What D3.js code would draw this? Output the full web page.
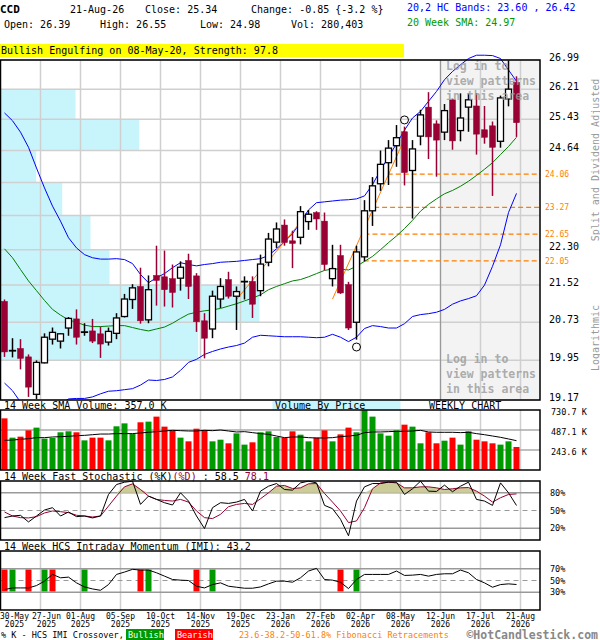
<!DOCTYPE html>
<html>
<head>
<meta charset="utf-8">
<script src="https://cdn.jsdelivr.net/npm/d3@7"></script>
<style>
  body { margin: 0; background: #fff; }
  svg { display: block; font-family: "DejaVu Sans Mono", monospace; }
</style>
</head>
<body>
<div id="chart"></div>
<script>
// Weekly bars
const dates = [
  '2025-05-30','2025-06-06','2025-06-13','2025-06-20','2025-06-27','2025-07-04','2025-07-11','2025-07-18','2025-07-25',
  '2025-08-01','2025-08-08','2025-08-15','2025-08-22','2025-08-29','2025-09-05','2025-09-12','2025-09-19','2025-09-26',
  '2025-10-03','2025-10-10','2025-10-17','2025-10-24','2025-10-31','2025-11-07','2025-11-14','2025-11-21','2025-11-28',
  '2025-12-05','2025-12-12','2025-12-19','2025-12-26','2026-01-02','2026-01-09','2026-01-16','2026-01-23','2026-01-30',
  '2026-02-06','2026-02-13','2026-02-20','2026-02-27','2026-03-06','2026-03-13','2026-03-20','2026-03-27','2026-04-02',
  '2026-04-10','2026-04-17','2026-04-24','2026-05-01','2026-05-08','2026-05-15','2026-05-22','2026-05-29','2026-06-05',
  '2026-06-12','2026-06-19','2026-06-26','2026-07-03','2026-07-10','2026-07-17','2026-07-24','2026-07-31','2026-08-07',
  '2026-08-14','2026-08-21'
];
const open = [21.17,20.14,20.19,20.02,19.28,19.90,20.38,20.34,20.61,20.80,20.52,20.55,20.49,20.32,20.50,20.85,21.21,21.49,20.78,21.73,
  21.70,21.66,21.67,22.06,21.72,20.76,20.59,21.22,21.64,21.28,21.59,21.60,21.40,22.02,22.47,22.86,22.50,22.58,22.94,23.15,
  22.95,21.66,22.17,21.53,20.73,22.14,23.19,23.83,24.34,24.76,25.11,24.15,25.00,25.74,25.31,25.10,25.93,25.14,25.74,25.77,
  25.16,25.26,24.87,25.95,26.39];
const high = [21.21,20.40,20.38,20.07,19.95,20.50,20.62,20.50,20.84,21.00,20.71,20.80,20.64,20.62,20.92,21.33,21.54,21.90,21.73,22.39,
  22.28,21.97,22.04,22.21,21.78,20.92,21.40,21.67,21.81,21.49,21.71,21.71,22.19,22.68,22.92,22.99,22.73,23.30,23.21,23.18,
  23.15,22.41,22.41,21.59,22.39,23.44,23.99,24.64,24.90,25.28,25.24,24.90,25.67,26.13,25.40,25.82,25.96,26.10,26.10,26.10,
  25.77,25.37,26.04,26.98,26.55];
const low = [20.02,20.01,19.77,19.23,19.19,19.89,20.27,20.19,20.45,20.27,20.45,20.30,20.00,20.25,20.38,20.83,21.01,20.70,20.71,21.08,
  21.06,21.04,21.40,21.22,20.53,19.99,20.40,21.03,21.23,20.57,21.21,20.82,21.28,21.93,22.34,22.39,21.89,22.42,22.75,22.75,
  21.84,21.49,21.33,20.57,20.37,22.04,22.84,23.66,23.80,24.24,23.79,23.01,24.77,24.43,24.00,24.90,24.66,24.87,25.11,24.54,
  24.81,23.54,24.71,25.76,24.98];
const close = [20.12,20.15,19.99,19.42,19.91,20.42,20.52,20.49,20.81,20.42,20.53,20.34,20.28,20.54,20.82,21.22,21.46,20.76,21.42,21.62,
  21.42,21.36,21.91,21.49,20.74,20.40,21.28,21.49,21.28,21.38,21.60,21.11,21.98,22.54,22.77,22.46,22.44,23.17,23.11,23.00,
  21.97,21.88,21.35,20.61,22.25,23.19,23.78,24.30,24.70,24.96,24.10,24.68,25.54,24.98,24.90,25.65,24.88,25.46,25.93,25.05,
  24.97,24.72,25.98,26.21,25.34];

// 20,2 bands and 20 week SMA
const upperBand = [25.59,25.39,25.10,24.72,24.21,23.73,23.30,22.95,22.57,22.34,22.19,22.12,22.09,22.09,22.10,22.08,21.99,21.75,21.57,21.68,
  21.77,21.90,22.01,21.97,21.94,21.97,21.99,22.02,22.03,22.04,22.06,22.08,22.10,22.17,22.32,22.48,22.66,22.93,23.21,23.38,
  23.40,23.42,23.44,23.45,23.47,23.54,23.81,24.16,24.48,24.81,25.15,25.46,25.63,25.89,26.15,26.46,26.68,26.86,27.03,27.12,
  27.12,27.11,27.03,26.72,26.42];
const lowerBand = [19.50,19.35,19.13,19.05,19.00,18.98,19.02,19.09,19.19,19.20,19.20,19.23,19.29,19.34,19.35,19.37,19.39,19.46,19.56,19.55,
  19.57,19.62,19.75,19.91,19.97,20.07,20.13,20.18,20.22,20.25,20.30,20.42,20.46,20.45,20.44,20.43,20.43,20.43,20.42,20.41,
  20.42,20.48,20.42,20.33,20.42,20.60,20.66,20.64,20.61,20.61,20.70,20.85,20.89,20.91,20.94,21.00,21.11,21.18,21.23,21.29,
  21.52,21.93,22.41,23.15,23.60];
const sma20 = [22.32,22.12,21.86,21.61,21.40,21.19,21.00,20.88,20.78,20.73,20.67,20.64,20.64,20.65,20.66,20.66,20.62,20.58,20.55,20.59,
  20.63,20.71,20.81,20.90,20.94,20.97,20.99,21.02,21.07,21.12,21.18,21.24,21.31,21.42,21.49,21.55,21.61,21.64,21.70,21.77,
  21.84,21.87,21.87,21.85,21.93,22.04,22.15,22.30,22.46,22.61,22.78,22.97,23.18,23.34,23.47,23.59,23.67,23.77,23.89,24.03,
  24.18,24.34,24.54,24.74,24.97];

// Volume (thousands) and its 14 week SMA
const volume = [629,394,406,483,516,382,390,459,471,459,361,394,394,361,532,568,438,581,589,650,
  528,483,394,349,503,487,349,369,325,446,309,337,459,471,402,394,471,430,349,394,
  483,349,434,516,459,728,650,446,418,483,552,528,325,459,325,357,394,309,471,369,
  349,325,309,349,280.4];
const volumeSma = [361,365,373,382,394,394,402,406,410,418,422,430,438,438,443,443,443,451,459,467,
  475,483,479,475,475,483,479,487,475,463,467,455,443,434,414,394,402,402,394,390,
  390,394,406,414,422,455,463,463,467,471,471,475,483,463,459,459,459,455,459,443,
  430,414,398,378,357];

// Fast stochastic and IMI (%)
const stochK = [37.9,40.7,41.8,30.6,40.7,50.8,54.8,40.7,47.5,39.6,40.7,37.4,40.7,77.2,94.0,98.0,99.7,60.4,74.4,68.8,
  63.2,59.3,80.0,66.0,40.7,19.4,54.8,63.2,62.0,64.3,68.8,49.2,82.8,91.2,95.7,85.6,84.5,96.8,99.7,96.8,
  58.7,53.1,35.1,7.1,66.0,90.1,95.7,95.7,98.0,98.0,77.2,86.8,99.7,82.8,82.3,93.0,81.8,91.2,98.0,68.8,
  66.0,58.7,96.8,80.0,58.5];
const stochD = [47.5,40.7,37.9,37.4,39.6,45.8,49.2,48.0,46.4,41.9,40.7,39.0,40.7,57.5,74.4,90.1,95.2,85.6,74.4,68.8,
  67.1,66.0,68.8,64.3,49.2,37.9,36.3,43.5,56.4,60.3,62.0,60.3,69.9,80.0,91.2,92.4,87.3,88.4,95.2,95.7,
  78.9,64.3,49.2,29.5,32.3,54.8,86.8,96.8,98.0,96.8,88.4,88.4,90.1,90.1,88.4,85.6,86.8,88.4,88.9,82.8,
  74.4,64.3,71.6,77.2,78.1];
const imi = [34.6,37.4,37.4,37.4,41.4,48.9,60.3,54.6,55.7,46.0,39.1,35.7,33.4,43.1,60.3,64.3,68.9,67.7,67.7,63.1,
  57.4,51.7,50.6,50.0,40.3,37.4,43.1,46.0,40.3,38.6,36.9,36.9,39.1,44.3,48.9,48.9,47.1,54.6,66.0,70.6,
  51.7,50.6,47.1,36.3,51.7,60.3,60.3,60.3,60.3,66.0,58.6,59.1,60.3,57.4,60.3,61.4,61.4,67.7,63.1,51.7,
  46.0,38.6,43.1,44.3,43.2];
const imiBullish = ['2025-06-06','2025-07-04','2025-08-08','2025-10-03','2025-11-28','2026-04-02'];
const imiBearish = ['2025-05-30','2025-06-20','2025-07-11','2025-09-26','2025-11-14','2026-03-20'];

// Axis ticks and labels
const priceTicks = [19.17,19.95,20.73,21.52,22.30,23.08,23.86,24.64,25.43,26.21,26.99];
const volumeTicks = [243.6,487.1,730.7];
const stochTicks = [20,50,80];
const imiTicks = [30,50,70];
const dateTicks = ['2025-05-30','2025-06-27','2025-08-01','2025-09-05','2025-10-10','2025-11-14','2025-12-19',
  '2026-01-23','2026-02-27','2026-04-02','2026-05-08','2026-06-12','2026-07-17','2026-08-21'];
const dateTickLabels = ['30-May','27-Jun','01-Aug','05-Sep','10-Oct','14-Nov','19-Dec','23-Jan','27-Feb','02-Apr','08-May','12-Jun','17-Jul','21-Aug'];

// Volume by price (thousands) for each band between price ticks
const vbpVolume = [0,6423,8415,3542,2924,2005,1160,4507,2437,0];

// Fibonacci retracements and trend lines
const fibLevels = [24.06,23.27,22.65,22.05];
const fibStart = [47.9,46.2,45.0,44.9];
const trendLines = [
  {from: 29, fromPrice: 21.21, to: 38, toPrice: 23.15},
  {from: 41, fromPrice: 21.22, to: 50, toPrice: 24.93}
];
const swingPoints = [{i: 50, price: 25.41}, {i: 44, price: 20.22}];

// Build the chart
const width = 600, height = 640;
const panelLeft = 0.5, panelRight = 540;
const price = {top: 60, bottom: 400};
const vol = {top: 410, bottom: 470};
const sto = {top: 481, bottom: 540};
const mom = {top: 551, bottom: 610};

const red = '#ff0000', green = '#009900', maroon = '#990033', orange = '#ff7f00';

const svg = d3.select('#chart').append('svg')
  .attr('width', width)
  .attr('height', height);

const bars = dates.map((d, i) => ({
  date: d, i: i, open: open[i], high: high[i], low: low[i], close: close[i],
  up: upperBand[i], lo: lowerBand[i], sma: sma20[i],
  vol: volume[i], volSma: volumeSma[i], k: stochK[i], dd: stochD[i], imi: imi[i]
}));

// Set up scales
const x = d3.scaleBand().domain(dates).range([0.5, 520.5]);
const bw = x.bandwidth();
const cx = d => x(d) + bw / 2;
const xAt = i => x(dates[0]) + bw / 2 + i * bw;
const y = d3.scaleLog().domain([19.17, 26.99]).range([price.bottom, price.top]);
const yv = d3.scaleLinear().domain([0, 730.7]).range([vol.bottom, vol.top]);
const ys = d3.scaleLinear().domain([0, 100]).range([sto.bottom, sto.top]);
const yi = d3.scaleLinear().domain([0, 100]).range([mom.bottom, mom.top]);
const xv = d3.scaleLinear().domain([0, 9000]).range([panelLeft, 277.5]);

const gridX = dateTicks.slice(1).map(d => x(d) + bw);

// Header
const header = svg.append('g').attr('font-size', 10);
header.append('text').attr('x', 0).attr('y', 13).attr('font-size', 11).attr('font-weight', 'bold').text('CCD');
header.append('text').attr('x', 70).attr('y', 13).text('21-Aug-26');
header.append('text').attr('x', 145).attr('y', 13).text('Close: 25.34');
header.append('text').attr('x', 251).attr('y', 13).text('Change: -0.85 {-3.2 %}');
header.append('text').attr('x', 407).attr('y', 11).attr('fill', '#0000ff').text('20,2 HC Bands: 23.60 , 26.42');
header.append('text').attr('x', 4).attr('y', 28).text('Open: 26.39');
header.append('text').attr('x', 100).attr('y', 28).text('High: 26.55');
header.append('text').attr('x', 200).attr('y', 28).text('Low: 24.98');
header.append('text').attr('x', 291).attr('y', 28).text('Vol: 280,403');
header.append('text').attr('x', 407).attr('y', 26).attr('fill', '#009900').text('20 Week SMA: 24.97');

svg.append('rect').attr('x', 0).attr('y', 44).attr('width', 404).attr('height', 13).attr('fill', '#ffff00');
svg.append('text').attr('x', 1).attr('y', 54).attr('font-size', 10).text('Bullish Engulfing on 08-May-20, Strength: 97.8');

// Price panel background pieces
svg.append('rect')
  .attr('x', 440.5).attr('y', price.top)
  .attr('width', panelRight - 440.5).attr('height', price.bottom - price.top)
  .attr('fill', '#f3f3f3');

// Volume by price
svg.append('g').selectAll('rect')
  .data(vbpVolume)
  .join('rect')
  .attr('x', panelLeft)
  .attr('y', (d, i) => y(priceTicks[i + 1]))
  .attr('width', d => xv(d) - panelLeft)
  .attr('height', (d, i) => y(priceTicks[i]) - y(priceTicks[i + 1]))
  .attr('fill', '#c8f4fc');

// Grid lines for all panels
const grid = svg.append('g').attr('stroke', '#cfcfcf').attr('stroke-width', 1.5);
[price, vol, sto, mom].forEach(p => {
  grid.selectAll(null)
    .data(gridX)
    .join('line')
    .attr('x1', d => d).attr('x2', d => d)
    .attr('y1', p.top).attr('y2', p.bottom);
});
grid.selectAll(null)
  .data(priceTicks)
  .join('line')
  .attr('x1', panelLeft).attr('x2', panelRight)
  .attr('y1', d => y(d)).attr('y2', d => y(d));

svg.append('line')
  .attr('x1', 440.5).attr('x2', 440.5)
  .attr('y1', price.top).attr('y2', price.bottom)
  .attr('stroke', '#999').attr('stroke-width', 1.2);

// Fibonacci retracement lines
svg.append('g').selectAll('line')
  .data(fibLevels)
  .join('line')
  .attr('x1', (d, i) => xAt(fibStart[i]))
  .attr('x2', panelRight)
  .attr('y1', d => y(d)).attr('y2', d => y(d))
  .attr('stroke', orange)
  .attr('stroke-width', 1.2)
  .attr('stroke-dasharray', '5,3');

// Clip lines at the bottom of the price panel
svg.append('clipPath').attr('id', 'priceClip')
  .append('rect').attr('x', 0).attr('y', 40).attr('width', panelRight).attr('height', price.bottom - 40);

const lines = svg.append('g').attr('clip-path', 'url(#priceClip)').attr('fill', 'none');
const priceLine = key => d3.line().x(d => cx(d.date)).y(d => y(d[key]));
lines.append('path').attr('d', priceLine('up')(bars)).attr('stroke', '#0000ff').attr('stroke-width', 1);
lines.append('path').attr('d', priceLine('lo')(bars)).attr('stroke', '#0000ff').attr('stroke-width', 1);
lines.append('path').attr('d', priceLine('sma')(bars)).attr('stroke', '#008000').attr('stroke-width', 1);

lines.selectAll('line')
  .data(trendLines)
  .join('line')
  .attr('x1', d => xAt(d.from)).attr('y1', d => y(d.fromPrice))
  .attr('x2', d => xAt(d.to)).attr('y2', d => y(d.toPrice))
  .attr('stroke', orange).attr('stroke-width', 1);

// Candles
const candles = svg.append('g').selectAll('g')
  .data(bars)
  .join('g');

candles.append('line')
  .attr('x1', d => cx(d.date)).attr('x2', d => cx(d.date))
  .attr('y1', d => y(Math.min(d.high, 26.99)) - (d.high > 26.99 ? 1 : 0))
  .attr('y2', d => y(d.low))
  .attr('stroke', d => d.close >= d.open ? '#000' : maroon)
  .attr('stroke-width', 1.5);

candles.append('rect')
  .attr('x', d => cx(d.date) - 3)
  .attr('width', 6)
  .attr('y', d => y(Math.max(d.open, d.close)))
  .attr('height', d => Math.max(0.5, Math.abs(y(d.open) - y(d.close))))
  .attr('fill', d => d.close >= d.open ? '#fff' : maroon)
  .attr('stroke', d => d.close >= d.open ? '#000' : maroon)
  .attr('stroke-width', d => d.close >= d.open ? 1.3 : 0.5);

// Swing markers
svg.append('g').selectAll('circle')
  .data(swingPoints)
  .join('circle')
  .attr('cx', d => xAt(d.i)).attr('cy', d => y(d.price))
  .attr('r', 4)
  .attr('fill', 'none').attr('stroke', '#000').attr('stroke-width', 1);

// Locked pattern area text
const lockText = ['Log in to', 'view patterns', 'in this area'];
[66, 359].forEach(top => {
  svg.append('g').selectAll('text')
    .data(lockText)
    .join('text')
    .attr('x', 446).attr('y', (d, i) => top + 4 + i * 15)
    .attr('font-size', 11.5).attr('font-weight', 'bold')
    .attr('fill', '#999').attr('fill-opacity', 0.8)
    .text(d => d);
});

// Right price axis labels
svg.append('g').selectAll('text')
  .data(priceTicks.filter(t => fibLevels.every(f => Math.abs(y(f) - y(t)) > 10)))
  .join('text')
  .attr('x', 549).attr('y', d => y(d) + 0.5)
  .attr('font-size', 10)
  .text(d => d.toFixed(2));

svg.append('g').selectAll('text')
  .data(fibLevels)
  .join('text')
  .attr('x', 545).attr('y', d => y(d) + 3)
  .attr('font-size', 8).attr('fill', orange)
  .text(d => d.toFixed(2));

svg.append('text')
  .attr('transform', 'translate(599,160) rotate(-90)')
  .attr('text-anchor', 'middle').attr('font-size', 10).attr('fill', '#999')
  .text('Split and Dividend Adjusted');
svg.append('text')
  .attr('transform', 'translate(599,338) rotate(-90)')
  .attr('text-anchor', 'middle').attr('font-size', 10).attr('fill', '#999')
  .text('Logarithmic');

// Volume panel
svg.append('rect').attr('x', 272.5).attr('y', 400).attr('width', 128).attr('height', 10).attr('fill', '#c8f4fc');
svg.append('text').attr('x', 4).attr('y', 408.5).attr('font-size', 10).text('14 Week SMA Volume: 357.0 K');
svg.append('text').attr('x', 275).attr('y', 408.5).attr('font-size', 10).text('Volume By Price');
svg.append('text').attr('x', 429).attr('y', 408.5).attr('font-size', 10).text('WEEKLY CHART');

svg.append('g').selectAll('line')
  .data(volumeTicks.slice(0, 2))
  .join('line')
  .attr('x1', panelLeft).attr('x2', panelRight)
  .attr('y1', d => yv(d)).attr('y2', d => yv(d))
  .attr('stroke', '#aaa').attr('stroke-width', 1.5);

svg.append('g').selectAll('rect')
  .data(bars)
  .join('rect')
  .attr('x', d => cx(d.date) - 3)
  .attr('width', 6)
  .attr('y', d => yv(d.vol))
  .attr('height', d => vol.bottom - yv(d.vol))
  .attr('fill', d => d.close >= d.open ? green : red);

svg.append('path')
  .attr('d', d3.line().x(d => cx(d.date)).y(d => yv(d.volSma))(bars))
  .attr('fill', 'none').attr('stroke', '#000').attr('stroke-width', 1);

svg.append('g').selectAll('text')
  .data(volumeTicks)
  .join('text')
  .attr('x', 551).attr('y', d => yv(d) + 5)
  .attr('font-size', 8.5)
  .text(d => d.toFixed(1) + ' K');

// Stochastic panel
const stoHead = svg.append('text').attr('x', 4).attr('y', 479.5).attr('font-size', 10);
stoHead.append('tspan').text('14 Week Fast Stochastic (%K)');
stoHead.append('tspan').attr('fill', maroon).text('(%D)');
stoHead.append('tspan').text(' : 58.5 ');
stoHead.append('tspan').attr('fill', maroon).text('78.1');

svg.append('g').selectAll('line')
  .data(stochTicks)
  .join('line')
  .attr('x1', panelLeft).attr('x2', panelRight)
  .attr('y1', d => ys(d)).attr('y2', d => ys(d))
  .attr('stroke', '#999').attr('stroke-width', d => d === 50 ? 1.2 : 1.5)
  .attr('stroke-dasharray', d => d === 50 ? '5,4' : null);

svg.append('path')
  .attr('d', d3.area().x(d => cx(d.date)).y0(ys(80)).y1(d => ys(Math.max(80, d.dd)))(bars))
  .attr('fill', '#cccc99');

svg.append('path')
  .attr('d', d3.line().x(d => cx(d.date)).y(d => ys(d.dd))(bars))
  .attr('fill', 'none').attr('stroke', maroon).attr('stroke-width', 1);
svg.append('path')
  .attr('d', d3.line().x(d => cx(d.date)).y(d => ys(d.k))(bars))
  .attr('fill', 'none').attr('stroke', '#000').attr('stroke-width', 1);

svg.append('g').selectAll('text')
  .data(stochTicks)
  .join('text')
  .attr('x', 550).attr('y', d => ys(d) + 3)
  .attr('font-size', 8.5)
  .text(d => d + '%');

// IMI panel
svg.append('text').attr('x', 4).attr('y', 549.5).attr('font-size', 10).text('14 Week HCS Intraday Momentum (IMI): 43.2');

svg.append('g').selectAll('line')
  .data(imiTicks)
  .join('line')
  .attr('x1', panelLeft).attr('x2', panelRight)
  .attr('y1', d => yi(d)).attr('y2', d => yi(d))
  .attr('stroke', '#999').attr('stroke-width', d => d === 50 ? 1.2 : 1.5)
  .attr('stroke-dasharray', d => d === 50 ? '5,4' : null);

const crossovers = imiBullish.map(d => ({date: d, color: green}))
  .concat(imiBearish.map(d => ({date: d, color: red})));
svg.append('g').selectAll('rect')
  .data(crossovers)
  .join('rect')
  .attr('x', d => cx(d.date) - 3)
  .attr('width', 6)
  .attr('y', yi(68.5))
  .attr('height', yi(31.5) - yi(68.5))
  .attr('fill', d => d.color);

svg.append('path')
  .attr('d', d3.line().x(d => cx(d.date)).y(d => yi(d.imi))(bars))
  .attr('fill', 'none').attr('stroke', '#000').attr('stroke-width', 1);

svg.append('g').selectAll('text')
  .data(imiTicks)
  .join('text')
  .attr('x', 550).attr('y', d => yi(d) + 3)
  .attr('font-size', 8.5)
  .text(d => d + '%');

// Panel frames
svg.append('g').selectAll('rect')
  .data([price, vol, sto, mom])
  .join('rect')
  .attr('x', panelLeft).attr('y', d => d.top)
  .attr('width', panelRight - panelLeft).attr('height', d => d.bottom - d.top)
  .attr('fill', 'none').attr('stroke', '#000').attr('stroke-width', 1.5);

// Date axis
let prevEnd = -10;
const dateAxis = svg.append('g').attr('font-size', 8).attr('text-anchor', 'middle');
dateTicks.forEach((d, i) => {
  const w = 29;
  let c = i === 0 ? w / 2 : x(d) + bw;
  c = Math.max(c, prevEnd + 3 + w / 2);
  prevEnd = c + w / 2;
  dateAxis.append('text').attr('x', c).attr('y', 618.5).text(dateTickLabels[i]);
  dateAxis.append('text').attr('x', c).attr('y', 626.5).text(d.slice(0, 4));
});

// Legend row
const legend = svg.append('g').attr('font-size', 8.5);
legend.append('text').attr('x', 1).attr('y', 637.5).text('% K - HCS IMI Crossover,');
legend.append('rect').attr('x', 126).attr('y', 629).attr('width', 38).attr('height', 11).attr('fill', green);
legend.append('text').attr('x', 128).attr('y', 637.5).attr('fill', '#fff').text('Bullish');
legend.append('rect').attr('x', 175).attr('y', 629).attr('width', 38).attr('height', 11).attr('fill', red);
legend.append('text').attr('x', 177).attr('y', 637.5).attr('fill', '#fff').text('Bearish');
legend.append('text').attr('x', 239).attr('y', 637.5).attr('fill', orange).text('23.6-38.2-50-61.8% Fibonacci Retracements');
svg.append('text').attr('x', 598).attr('y', 638.5).attr('text-anchor', 'end')
  .attr('font-size', 11.5).attr('font-weight', 'bold').attr('fill', '#888')
  .text('\u00a9HotCandlestick.com');
</script>
</body>
</html>
